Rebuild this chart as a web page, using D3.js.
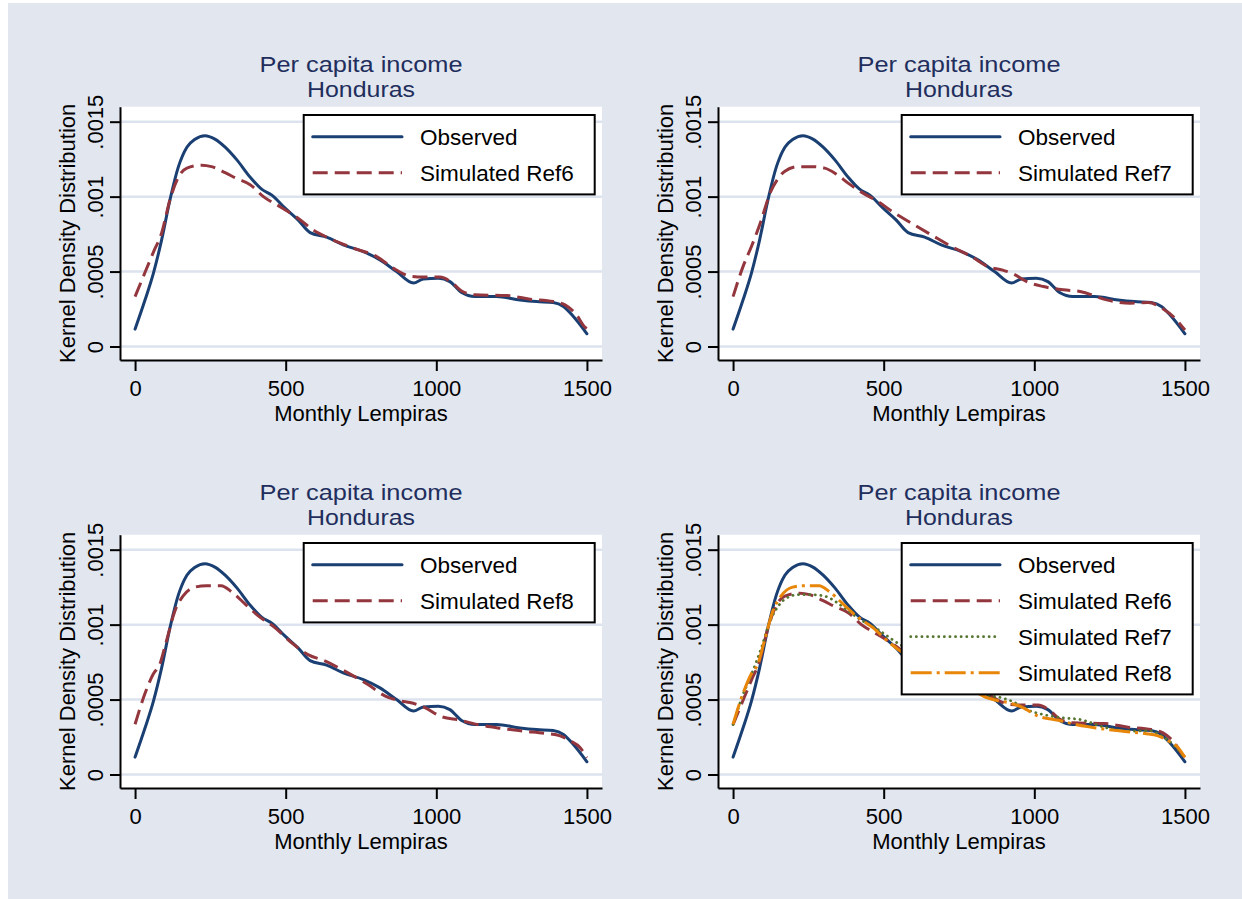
<!DOCTYPE html>
<html>
<head>
<meta charset="utf-8">
<script src="https://cdn.jsdelivr.net/npm/d3@7"></script>
<style>
  html, body { margin: 0; padding: 0; background: #ffffff; }
  svg { display: block; font-family: "Liberation Sans", Arial, sans-serif; }
</style>
</head>
<body>
<svg id="chart" width="1242" height="899"></svg>
<script>
// ---------------- data ----------------
const titleLines = ["Per capita income", "Honduras"];
const xAxisTitle = "Monthly Lempiras";
const yAxisTitle = "Kernel Density Distribution";
const xTicks = [0, 500, 1000, 1500];
const yTicks = [0, 0.0005, 0.001, 0.0015];
const yTickLabels = ["0", ".0005", ".001", ".0015"];

const observedX = [0, 33, 61, 88, 116, 144, 172, 199, 232, 265, 299, 338, 382, 420, 454, 498, 541, 581, 636, 691, 758, 813, 868, 924, 957, 1007, 1045, 1084, 1128, 1200, 1278, 1333, 1388, 1422, 1455, 1500];
const observedY = [0.000116, 0.00031, 0.00049, 0.00071, 0.00098, 0.0012, 0.00133, 0.001383, 0.001407, 0.001384, 0.00133, 0.001245, 0.00113, 0.00105, 0.00101, 0.000923, 0.000845, 0.00076, 0.00073, 0.000678, 0.000633, 0.000578, 0.0005, 0.000423, 0.00045, 0.000456, 0.000433, 0.00036, 0.000333, 0.000333, 0.000311, 0.0003, 0.000293, 0.000267, 0.0002, 0.000085];

const ref6X = [0, 28, 61, 88, 116, 144, 172, 221, 254, 299, 338, 382, 426, 481, 541, 591, 636, 725, 802, 857, 918, 957, 1012, 1056, 1084, 1128, 1233, 1311, 1388, 1427, 1466, 1493, 1500];
const ref6Y = [0.000333, 0.00047, 0.00063, 0.000756, 0.00098, 0.00113, 0.00119, 0.00121, 0.0012, 0.00116, 0.00112, 0.00108, 0.001, 0.000933, 0.000856, 0.000778, 0.00073, 0.000656, 0.0006, 0.000523, 0.000467, 0.000463, 0.000463, 0.00042, 0.00037, 0.000345, 0.00034, 0.000316, 0.0003, 0.000278, 0.00021, 0.00013, 0.00012];

const ref7X = [0, 33, 61, 94, 122, 149, 172, 216, 260, 304, 343, 382, 426, 481, 537, 592, 658, 725, 791, 846, 895, 930, 975, 1030, 1096, 1152, 1240, 1318, 1378, 1428, 1461, 1500];
const ref7Y = [0.000333, 0.000533, 0.000667, 0.000845, 0.00102, 0.00112, 0.00117, 0.0012, 0.0012, 0.00119, 0.00115, 0.00109, 0.00103, 0.000967, 0.000889, 0.000823, 0.000745, 0.000667, 0.0006, 0.000533, 0.00051, 0.000485, 0.000433, 0.0004, 0.000378, 0.000367, 0.000311, 0.000289, 0.000293, 0.00025, 0.0002, 0.00011];

const ref8X = [0, 32, 60, 82, 104, 132, 159, 198, 237, 286, 320, 364, 408, 464, 519, 574, 630, 696, 773, 829, 884, 912, 962, 1012, 1079, 1145, 1211, 1289, 1367, 1411, 1444, 1477, 1500];
const ref8Y = [0.000335, 0.000535, 0.000669, 0.000735, 0.00089, 0.00109, 0.00119, 0.00125, 0.00126, 0.00126, 0.00122, 0.00114, 0.00106, 0.00098, 0.00088, 0.0008, 0.000758, 0.00069, 0.0006, 0.000525, 0.00049, 0.00048, 0.000447, 0.00039, 0.000362, 0.00033, 0.000309, 0.00029, 0.000273, 0.000258, 0.000225, 0.00018, 0.000113];

const seriesNames = ["Observed", "Simulated Ref6", "Simulated Ref7", "Simulated Ref8"];
const panelSeries = [[0, 1], [0, 2], [0, 3], [0, 1, 2, 3]];

// ---------------- styles ----------------
const seriesData = [
  { x: observedX, y: observedY },
  { x: ref6X, y: ref6Y },
  { x: ref7X, y: ref7Y },
  { x: ref8X, y: ref8Y }
];
// each panel uses the plot's own sequence of line styles (1st, 2nd, 3rd, 4th line)
const styleList = [
  { color: "#1a3f72", width: 3, dash: null, cap: "round" },
  { color: "#93363d", width: 3, dash: "15,7", cap: "butt" },
  { color: "#55752f", width: 2.8, dash: "0.1,5.5", cap: "round" },
  { color: "#e8860a", width: 3, dash: "21,5,3,5", cap: "butt" }
];
const BG = "#e1e6ef";
const GRID = "#dde3ee";
const TITLE_COLOR = "#1f2e5c";
const FONT = "'Liberation Sans', Arial, sans-serif";

const svg = d3.select("#chart");
svg.append("rect").attr("x", 8).attr("y", 3).attr("width", 1242 - 8).attr("height", 899 - 3).attr("fill", BG);

const panelOffsets = [[0, 0], [598, 0], [0, 428], [598, 428]];
const plot = { left: 120, right: 602, top: 106.7, bottom: 360 };
const titleWidths = [203, 108];

const x = d3.scaleLinear().domain([-50, 1550]).range([plot.left, plot.right]);
const y = d3.scaleLinear().domain([-0.00009, 0.0016]).range([plot.bottom, plot.top]);

const line = d3.line().x(d => x(d[0])).y(d => y(d[1])).curve(d3.curveMonotoneX);

panelOffsets.forEach((off, pi) => {
  const g = svg.append("g").attr("transform", `translate(${off[0]},${off[1]})`);

  // plot area
  g.append("rect").attr("x", plot.left).attr("y", plot.top)
    .attr("width", plot.right - plot.left).attr("height", plot.bottom - plot.top)
    .attr("fill", "#ffffff");

  // gridlines
  g.selectAll(".grid").data(yTicks).enter().append("line")
    .attr("x1", plot.left).attr("x2", plot.right)
    .attr("y1", d => y(d)).attr("y2", d => y(d))
    .attr("stroke", GRID).attr("stroke-width", 2.5);

  const items = panelSeries[pi];

  // series
  items.forEach((si, k) => {
    const st = styleList[k];
    const pts = seriesData[si].x.map((v, i) => [v, seriesData[si].y[i]]);
    g.append("path").attr("d", line(pts))
      .attr("fill", "none").attr("stroke", st.color).attr("stroke-width", st.width)
      .attr("stroke-dasharray", st.dash).attr("stroke-linecap", st.cap)
      .attr("stroke-linejoin", "round");
  });

  // axes
  const xAxis = g.append("g").attr("transform", `translate(0,${plot.bottom})`)
    .call(d3.axisBottom(x).tickValues(xTicks).tickSize(11).tickSizeOuter(0).tickFormat(d3.format("d")));
  xAxis.select(".domain").attr("stroke", "#000").attr("stroke-width", 2);
  xAxis.selectAll(".tick line").attr("stroke", "#000").attr("stroke-width", 2);
  xAxis.selectAll(".tick text").attr("font-size", 22).attr("fill", "#000")
    .attr("font-family", FONT).attr("dy", null).attr("y", 36);

  const yAxis = g.append("g").attr("transform", `translate(${plot.left},0)`)
    .call(d3.axisLeft(y).tickValues(yTicks).tickSize(10).tickSizeOuter(0)
      .tickFormat((d, i) => yTickLabels[i]));
  yAxis.select(".domain").attr("stroke", "#000").attr("stroke-width", 2);
  yAxis.selectAll(".tick line").attr("stroke", "#000").attr("stroke-width", 2);
  yAxis.selectAll(".tick text").attr("font-size", 22).attr("fill", "#000")
    .attr("font-family", FONT)
    .attr("transform", "rotate(-90)").attr("x", 0).attr("y", -17.5).attr("dy", null)
    .attr("text-anchor", "middle");

  // axis titles
  g.append("text").attr("x", (plot.left + plot.right) / 2).attr("y", 421)
    .attr("text-anchor", "middle").attr("font-size", 22).attr("fill", "#000").text(xAxisTitle);
  g.append("text")
    .attr("transform", `translate(75,${(plot.top + plot.bottom) / 2}) rotate(-90)`)
    .attr("text-anchor", "middle").attr("font-size", 22).attr("fill", "#000").text(yAxisTitle);

  // two-line title
  titleLines.forEach((t, i) => {
    g.append("text").attr("x", (plot.left + plot.right) / 2).attr("y", 72.3 + i * 25)
      .attr("text-anchor", "middle").attr("font-size", 21.5).attr("fill", TITLE_COLOR)
      .attr("textLength", titleWidths[i]).attr("lengthAdjust", "spacingAndGlyphs")
      .text(t);
  });

  // legend
  const lg = g.append("g");
  const boxTop = 115, rowGap = 36, boxPad = 21.7;
  lg.append("rect").attr("x", 303.7).attr("y", boxTop)
    .attr("width", 594.7 - 303.7).attr("height", boxPad * 2 + rowGap * (items.length - 1))
    .attr("fill", "#ffffff").attr("stroke", "#000").attr("stroke-width", 2);
  items.forEach((si, k) => {
    const st = styleList[k];
    const ry = boxTop + boxPad + k * rowGap;
    lg.append("line").attr("x1", 312.7).attr("x2", 402).attr("y1", ry).attr("y2", ry)
      .attr("stroke", st.color).attr("stroke-width", st.width)
      .attr("stroke-dasharray", st.dash).attr("stroke-linecap", st.cap);
    lg.append("text").attr("x", 420).attr("y", ry + 8).attr("font-size", 22.5)
      .attr("fill", "#000").text(seriesNames[si]);
  });
});
</script>
</body>
</html>
